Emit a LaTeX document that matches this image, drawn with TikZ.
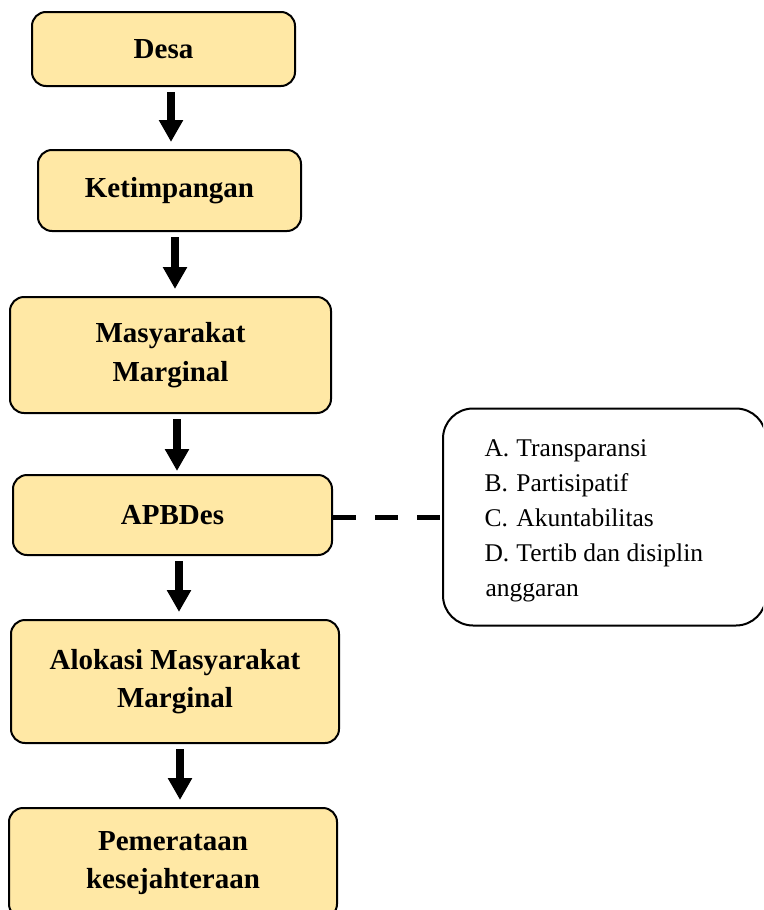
\documentclass[tikz,border=0pt]{standalone}
\usepackage{fontspec}
\setmainfont{Liberation Serif}
\usepackage{xcolor}
\definecolor{boxgold}{RGB}{255,232,165}
\usetikzlibrary{arrows.meta,positioning}

\begin{document}
\begin{tikzpicture}[x=1pt,y=-1pt,
    flowbox/.style={draw,line width=2pt,fill=boxgold,rounded corners=14pt,
        align=center,font=\fontsize{29}{38.5}\selectfont\bfseries},
    bigarrow/.style={-{Triangle[width=23pt,length=22pt]},line width=8pt,
        shorten <=5pt,shorten >=7pt},
    linkline/.style={line width=5pt,dash pattern=on 23pt off 19pt}]
  \useasboundingbox (0,0) rectangle (763,910);
  \clip (0,0) rectangle (763,910);
  % main flow
  \node[flowbox,minimum width=263pt,minimum height=74pt]  (desa) at (163.5,49) {Desa};
  \node[flowbox,minimum width=263pt,minimum height=81pt]  (ketimpangan) at (169.5,190.5) {Ketimpangan};
  \node[flowbox,minimum width=321pt,minimum height=116pt] (marginal) at (170.5,355) {Masyarakat\\Marginal};
  \node[flowbox,minimum width=319pt,minimum height=80pt]  (apbdes) at (172.5,515) {APBDes};
  \node[flowbox,minimum width=328pt,minimum height=123pt] (alokasi) at (175,681.5) {Alokasi Masyarakat\\Marginal};
  \node[flowbox,minimum width=328pt,minimum height=110pt] (pemerataan) at (173,863) {Pemerataan\\kesejahteraan};
  \draw[bigarrow] ([xshift=7.5pt]desa.south) -- ([xshift=1.5pt]ketimpangan.north);
  \draw[bigarrow] ([xshift=5.5pt]ketimpangan.south) -- ([xshift=4.5pt]marginal.north);
  \draw[bigarrow,shorten >=3pt] ([xshift=6.5pt]marginal.south) -- ([xshift=4.5pt]apbdes.north);
  \draw[bigarrow] ([xshift=6.5pt]apbdes.south) -- ([xshift=4pt]alokasi.north);
  \draw[bigarrow] ([xshift=5pt]alokasi.south) -- ([xshift=7pt]pemerataan.north);
  % principles
  \node[draw,line width=2pt,fill=white,rounded corners=30pt,
        minimum width=323pt,minimum height=217pt,text width=240pt,align=flush left,
        font=\fontsize{25.5}{35}\selectfont]
        (prinsip) at (604.5,517)
        {\rule{0pt}{25pt}\makebox[32pt][l]{A.}Transparansi\\
         \makebox[32pt][l]{B.}Partisipatif\\
         \makebox[32pt][l]{C.}Akuntabilitas\\
         \makebox[32pt][l]{D.}Tertib dan disiplin\\
         \hspace*{1pt}anggaran};
  \draw[linkline] (apbdes.east |- prinsip.west) -- (prinsip.west);
\end{tikzpicture}
\end{document}
